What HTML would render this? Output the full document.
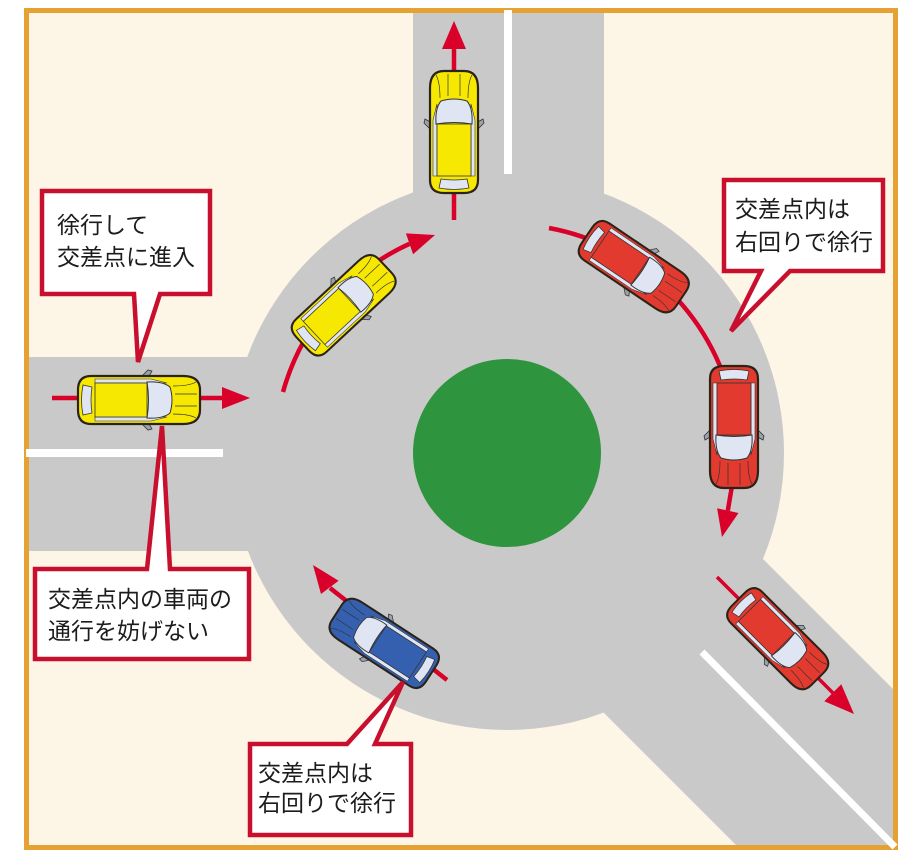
<!DOCTYPE html>
<html><head><meta charset="utf-8"><style>
html,body{margin:0;padding:0;background:#fff;}
svg{display:block;}
text{font-family:"Liberation Sans","Noto Sans CJK JP",sans-serif;font-size:23px;fill:#1c1c1c;}
</style></head><body>
<svg width="924" height="867" viewBox="0 0 924 867" xmlns="http://www.w3.org/2000/svg">
<defs>
<clipPath id="fr"><rect x="26" y="10" width="870" height="838"/></clipPath>
<g id="car">
 <path d="M2,-23 L9,-30 L13,-29 L9,-22Z M2,23 L9,30 L13,29 L9,22Z" fill="#9aa3ad" stroke="#333" stroke-width="0.8"/>
 <path d="M-48,-24 H44 Q61,-24 61,-10 V10 Q61,24 44,24 H-48 Q-61,24 -61,10 V-10 Q-61,-24 -48,-24Z" fill="currentColor" stroke="#2b2218" stroke-width="2.2"/>
 <path d="M-56,-15 Q-59,0 -56,15 L-47,13 Q-49,0 -47,-13Z" fill="#dfe5f3" stroke="#333" stroke-width="0.8"/>
 <path d="M-44,-21 L12,-21 L28,-17 L10,-17 L-44,-17Z" fill="#dfe5f3" stroke="#333" stroke-width="0.6"/>
 <path d="M-44,21 L12,21 L28,17 L10,17 L-44,17Z" fill="#dfe5f3" stroke="#333" stroke-width="0.6"/>
 <rect x="-44" y="-17" width="52" height="34" fill="currentColor" stroke="#333" stroke-width="0.8"/>
 <path d="M8,-18 Q24,-19 31,-13 Q35,0 31,13 Q24,19 8,18 Q11,0 8,-18Z" fill="#dfe5f3" stroke="#333" stroke-width="1"/>
 <path d="M34,-14 Q50,-14 57,-18 M34,14 Q50,14 57,18 M36,-6 L58,-6 M36,6 L58,6" fill="none" stroke="#333" stroke-width="0.7"/>
</g>
</defs>
<rect width="924" height="867" fill="#fff"/>
<g clip-path="url(#fr)">
 <rect x="0" y="0" width="924" height="867" fill="#fdf5e5"/>
 <g fill="#c9c9c9">
  <circle cx="507" cy="453" r="277"/>
  <rect x="413" y="0" width="191" height="300"/>
  <rect x="0" y="357" width="260" height="194"/>
  <polygon points="700,496 1000,796 800,909 500,609"/>
 </g>
 <circle cx="507" cy="453" r="94" fill="#2f943e"/>
</g>
<rect x="26.5" y="10.5" width="869" height="837" fill="none" stroke="#e6a133" stroke-width="5"/>
<!-- white lane lines -->
<rect x="504" y="10" width="8" height="164" fill="#fff"/>
<rect x="26" y="449" width="197" height="8" fill="#fff"/>
<line x1="702" y1="652" x2="895" y2="847" stroke="#fff" stroke-width="7"/>

<!-- red arrows -->
<g stroke="#d9002a" stroke-width="4.5" fill="none">
 <line x1="52" y1="398" x2="224" y2="398"/>
 <path d="M283,392 A231,231 0 0,1 409.5,243.8"/>
 <line x1="454" y1="220" x2="454" y2="46"/>
 <path d="M549,228 A231,231 0 0,1 734,413"/>
 <line x1="733" y1="480" x2="727.8" y2="510.6"/>
 <line x1="717" y1="577" x2="833" y2="693" stroke-width="3.5"/>
 <line x1="447" y1="680" x2="330" y2="588"/>
</g>
<g fill="#d9002a">
 <polygon points="222,387 250,398 222,409"/>
 <polygon points="405.9,233.4 435,235 413.1,254.2"/>
 <polygon points="442,49 454,21 466,49"/>
 <polygon points="717.1,508.2 722,537 738.5,513"/>
 <polygon points="824.3,701.3 854,714 841.3,684.3"/>
 <polygon points="338.6,580.8 313,565 321,594"/>
</g>

<!-- cars -->
<use href="#car" style="color:#f6e800" transform="translate(139,400)"/>
<use href="#car" style="color:#f6e800" transform="translate(344,305) rotate(-43) scale(0.93)"/>
<use href="#car" style="color:#f6e800" transform="translate(454,132) rotate(-90)"/>
<use href="#car" style="color:#e23a2e" transform="translate(634,267) rotate(34) scale(0.93)"/>
<use href="#car" style="color:#e23a2e" transform="translate(734,427) rotate(90)"/>
<use href="#car" style="color:#e23a2e" transform="translate(778,639) rotate(45) scale(0.92)"/>
<use href="#car" style="color:#3560b0" transform="translate(384,643) rotate(-147) scale(0.92)"/>

<!-- callouts -->
<g fill="#fff" stroke="#c8102e" stroke-width="4.5" stroke-linejoin="miter">
 <path d="M42,191 H210 V294 H160 L138,362 L134,294 H42 Z"/>
 <path d="M724,180 H883 V271 H790 L731,331 L761,271 H724 Z"/>
 <path d="M35,569 H147 L162,426 L170,569 H249 V659 H35 Z"/>
 <path d="M250,744 H347 L403,682 L375,744 H411 V835 H250 Z"/>
</g>
<text x="57" y="233">徐行して</text>
<text x="57" y="265">交差点に進入</text>
<text x="735" y="217">交差点内は</text>
<text x="735" y="250">右回りで徐行</text>
<text x="48" y="607">交差点内の車両の</text>
<text x="48" y="639">通行を妨げない</text>
<text x="258" y="781">交差点内は</text>
<text x="258" y="811">右回りで徐行</text>
</svg>
</body></html>
